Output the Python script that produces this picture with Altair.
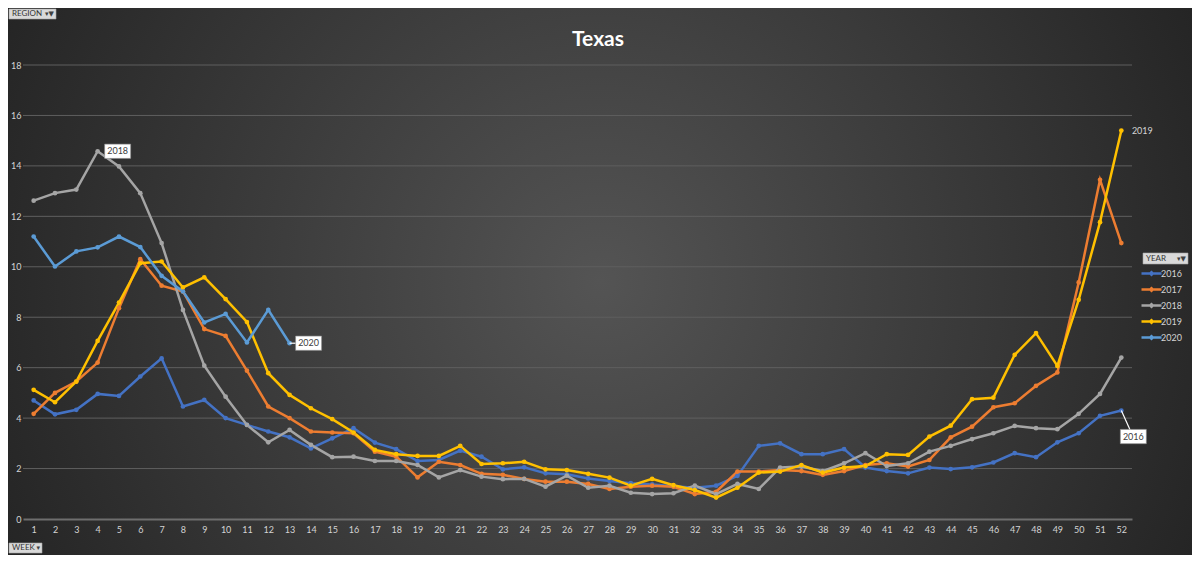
import altair as alt
import pandas as pd

weeks = list(range(1, 53))
years = ["2016", "2017", "2018", "2019", "2020"]
colors = ["#4472C4", "#ED7D31", "#A5A5A5", "#FFC000", "#5B9BD5"]
y_ticks = list(range(0, 19, 2))

y2016 = [4.70, 4.15, 4.33, 4.96, 4.88, 5.65, 6.37, 4.46, 4.72, 4.00,
         3.73, 3.47, 3.24, 2.80, 3.20, 3.60, 3.03, 2.77, 2.30, 2.34,
         2.71, 2.47, 1.97, 2.05, 1.81, 1.77, 1.61, 1.51, 1.42, 1.37,
         1.30, 1.24, 1.32, 1.71, 2.90, 3.00, 2.57, 2.57, 2.77, 2.04,
         1.90, 1.81, 2.04, 1.98, 2.05, 2.24, 2.61, 2.45, 3.04, 3.40,
         4.09, 4.30]
y2017 = [4.17, 5.00, 5.45, 6.20, 8.36, 10.30, 9.25, 9.02, 7.53, 7.26,
         5.88, 4.46, 4.00, 3.47, 3.43, 3.40, 2.67, 2.47, 1.65, 2.27,
         2.14, 1.79, 1.75, 1.59, 1.48, 1.48, 1.39, 1.19, 1.28, 1.32,
         1.28, 0.99, 1.08, 1.88, 1.88, 1.94, 1.90, 1.75, 1.90, 2.14,
         2.21, 2.08, 2.34, 3.24, 3.66, 4.43, 4.59, 5.28, 5.81, 9.38,
         13.45, 10.94]
y2018 = [12.62, 12.92, 13.06, 14.58, 13.98, 12.92, 10.94, 8.29, 6.08, 4.85,
         3.73, 3.04, 3.53, 2.94, 2.45, 2.47, 2.30, 2.30, 2.14, 1.65,
         1.94, 1.68, 1.58, 1.59, 1.28, 1.72, 1.24, 1.32, 1.04, 0.99,
         1.02, 1.32, 0.99, 1.39, 1.19, 2.04, 2.08, 1.90, 2.21, 2.61,
         2.10, 2.21, 2.67, 2.90, 3.17, 3.40, 3.69, 3.60, 3.56, 4.17,
         4.96, 6.40]
y2019 = [5.12, 4.63, 5.45, 7.06, 8.58, 10.14, 10.21, 9.18, 9.58, 8.72,
         7.81, 5.78, 4.92, 4.39, 3.96, 3.43, 2.74, 2.57, 2.50, 2.50,
         2.90, 2.18, 2.21, 2.27, 1.97, 1.94, 1.79, 1.64, 1.32, 1.59,
         1.34, 1.15, 0.85, 1.24, 1.84, 1.88, 2.14, 1.84, 2.04, 2.10,
         2.57, 2.54, 3.27, 3.70, 4.75, 4.81, 6.51, 7.37, 6.07, 8.69,
         11.77, 15.40]
y2020 = [11.20, 10.01, 10.61, 10.77, 11.20, 10.78, 9.64, 9.02, 7.79, 8.13,
         7.00, 8.29, 6.97]

series = [y2016, y2017, y2018, y2019, y2020]
rows = []
for yr, vals in zip(years, series):
    for w, v in zip(weeks, vals):
        rows.append({"year": yr, "week": w, "value": v})
df = pd.DataFrame(rows)

PL, PT = 15, 57
W, H = 1109, 454
SVG_W, SVG_H = 1184, 547
FONT = "Lato"
LABEL_COLOR = "#d4d4d4"

x_scale = alt.Scale(domain=[0.5, 52.5], nice=False, zero=False)
y_scale = alt.Scale(domain=[0, 18], nice=False)
color_scale = alt.Scale(domain=years, range=colors)

x_axis = alt.Axis(values=weeks, title=None, grid=False, ticks=False,
                  domainColor="#6e6e6e", domainWidth=2,
                  labelColor=LABEL_COLOR, labelFontSize=9, labelFont=FONT,
                  labelPadding=6, labelFlush=False, labelOverlap=False,
                  labelBound=False, zindex=1)
y_axis = alt.Axis(values=y_ticks, title=None, grid=False, ticks=False,
                  domain=False, labelColor=LABEL_COLOR, labelFontSize=9,
                  labelFont=FONT, labelPadding=2, labelOverlap=False, zindex=1)

X = lambda f: alt.X(f, scale=x_scale, axis=x_axis)
Y = lambda f: alt.Y(f, scale=y_scale, axis=y_axis)

one = pd.DataFrame({"a": [0]})

# background with radial gradient (Excel dark style)
bg = alt.Chart(one).mark_rect(
    color={"gradient": "radial",
           "stops": [{"offset": 0, "color": "#545454"},
                     {"offset": 1, "color": "#1f1f1f"}],
           "x1": 0.5, "y1": 0.5, "r1": 0, "x2": 0.5, "y2": 0.5, "r2": 0.62}
).encode(x=alt.value(-PL), x2=alt.value(SVG_W - PL),
         y=alt.value(-PT), y2=alt.value(SVG_H - PT))

grid = alt.Chart(pd.DataFrame({"value": y_ticks[1:]})).mark_rule(
    color="#5f5f5f", strokeWidth=1
).encode(y=Y("value:Q"))

legend_symbol = "M-2,0H2M-0.25,0L0,-0.25L0.25,0L0,0.25Z"

lines = alt.Chart(df).mark_line(
    strokeWidth=2.5,
    point=alt.OverlayMarkDef(filled=True, size=22)
).encode(
    x=X("week:Q"),
    y=Y("value:Q"),
    color=alt.Color("year:N", scale=color_scale,
                    legend=alt.Legend(title=None, orient="none", legendX=1145 - 8 - PL,
                                      legendY=202,
                                      symbolType=legend_symbol, symbolSize=100,
                                      symbolStrokeWidth=2.5, labelColor=LABEL_COLOR,
                                      labelFontSize=9, labelFont=FONT, labelOffset=3,
                                      rowPadding=3, padding=0))
)

def boxed_label(year, week, value, dx, dy):
    d = pd.DataFrame({"week": [week], "value": [value], "label": [year]})
    base = alt.Chart(d).encode(x=X("week:Q"), y=Y("value:Q"))
    box = base.mark_point(shape="M-1,-0.55H1V0.55H-1Z", size=676, filled=True,
                          fill="#ffffff", stroke="#8c8c8c", strokeWidth=0.6,
                          opacity=1, xOffset=dx, yOffset=dy)
    txt = base.mark_text(font=FONT, fontSize=9, color="#404040",
                         xOffset=dx, yOffset=dy, align="center",
                         baseline="middle").encode(text="label:N")
    return box, txt

b18, t18 = boxed_label("2018", 4, 14.58, 20, 0)
b20, t20 = boxed_label("2020", 13, 6.97, 19, 0)
b16, t16 = boxed_label("2016", 52, 4.30, 12, 26)

lead_df = pd.DataFrame({"week": [52, 13], "value": [4.30, 6.97]})
lead16 = alt.Chart(lead_df.iloc[[0]]).mark_rule(
    color="#ffffff", strokeWidth=1.2, x2Offset=9, y2Offset=20
).encode(x=X("week:Q"), y=Y("value:Q"), x2="week:Q", y2="value:Q")
lead20 = alt.Chart(lead_df.iloc[[1]]).mark_rule(
    color="#ffffff", strokeWidth=1.2, x2Offset=7
).encode(x=X("week:Q"), y=Y("value:Q"), x2="week:Q", y2="value:Q")

lab19 = alt.Chart(pd.DataFrame({"week": [52], "value": [15.40], "label": ["2019"]})).mark_text(
    font=FONT, fontSize=9, color=LABEL_COLOR, xOffset=21, align="center", baseline="middle"
).encode(x=X("week:Q"), y=Y("value:Q"), text="label:N")

title = alt.Chart(pd.DataFrame({"t": ["Texas"]})).mark_text(
    font=FONT, fontSize=21, fontWeight="bold", color="#ffffff",
    align="center", baseline="middle"
).encode(x=alt.value(598 - 8 - PL), y=alt.value(40 - 8 - PT), text="t:N")

# pivot chart field buttons (page coords converted to plot coords)
def button(label, icon, px0, px1, py0, py1):
    x0, x1 = px0 - 8 - PL, px1 - 8 - PL
    y0, y1 = py0 - 8 - PT, py1 - 8 - PT
    r = alt.Chart(one).mark_rect(fill="#d9d9d9", stroke="#a6a6a6", strokeWidth=0.6).encode(
        x=alt.value(x0), x2=alt.value(x1), y=alt.value(y0), y2=alt.value(y1))
    t = alt.Chart(pd.DataFrame({"t": [label]})).mark_text(
        font=FONT, fontSize=8, color="#333333", align="left", baseline="middle"
    ).encode(x=alt.value(x0 + 3), y=alt.value((y0 + y1) / 2), text="t:N")
    ic = alt.Chart(pd.DataFrame({"t": [icon]})).mark_text(
        font="DejaVu Sans", fontSize=7, color="#404040", align="right", baseline="middle"
    ).encode(x=alt.value(x1 - 2), y=alt.value((y0 + y1) / 2), text="t:N")
    return [r, t, ic]

buttons = (button("REGION", "▾▼", 9, 56, 9, 19)
           + button("WEEK", "▾", 9, 42, 543, 553)
           + button("YEAR", "▾▼", 1143, 1188, 253, 264))

chart = alt.layer(
    bg, grid, lines, lead16, lead20, b18, t18, b20, t20, b16, t16, lab19, title,
    *buttons
).properties(
    width=W, height=H,
    padding={"left": PL, "top": PT, "right": SVG_W - PL - W, "bottom": SVG_H - PT - H},
    autosize=alt.AutoSizeParams(type="none"),
    background="#262626"
).configure_view(strokeWidth=0).configure_axis(labelOverlap=False)

chart.save("out.html", embed_options={"renderer": "svg", "actions": False})
